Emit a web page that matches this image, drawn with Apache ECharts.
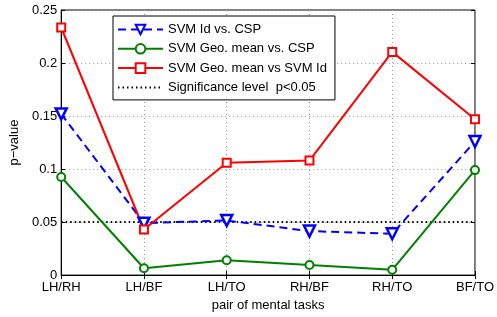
<!DOCTYPE html>
<html>
<head>
<meta charset="utf-8">
<script src="https://cdn.jsdelivr.net/npm/echarts@6/dist/echarts.min.js"></script>
<style>
  html, body { margin: 0; padding: 0; background: #fff; }
  #chart { width: 497px; height: 317px; }
</style>
</head>
<body>
<div id="chart"></div>
<script>
const categories = ["LH/RH", "LH/BF", "LH/TO", "RH/BF", "RH/TO", "BF/TO"];
const svmIdVsCsp = [0.152, 0.049, 0.0515, 0.0415, 0.039, 0.126];
const geoVsCsp = [0.0925, 0.0065, 0.014, 0.0095, 0.005, 0.099];
const geoVsSvmId = [0.2335, 0.043, 0.106, 0.108, 0.2105, 0.147];
const significance = [0.05, 0.05, 0.05, 0.05, 0.05, 0.05];

const font = "Liberation Sans, Arial, sans-serif";
const chart = echarts.init(document.getElementById("chart"));

const tickStyle = { show: true, inside: true, length: 4, lineStyle: { color: "#000" } };
const gridLine = { show: true, lineStyle: { color: "#999", type: [1, 3] } };

chart.setOption({
  animation: false,
  textStyle: { fontFamily: font },
  grid: {
    left: 59, right: 20, top: 10, bottom: 34,
    show: true, borderColor: "#000", borderWidth: 1
  },
  legend: {
    orient: "vertical",
    left: 113, top: 16,
    itemWidth: 45, itemHeight: 12, itemGap: 6.3,
    padding: [7, 8, 6, 4],
    borderColor: "#000", borderWidth: 1, backgroundColor: "#fff",
    textStyle: { fontSize: 13, color: "#000", fontFamily: font },
    data: [
      "SVM Id vs. CSP",
      "SVM Geo. mean vs. CSP",
      "SVM Geo. mean vs SVM Id",
      { name: "Significance level  p<0.05", itemStyle: { color: "transparent", borderWidth: 0 } }
    ]
  },
  xAxis: [
    {
      type: "category", data: categories, boundaryGap: false,
      name: "pair of mental tasks", nameLocation: "middle", nameGap: 22,
      nameTextStyle: { fontSize: 13, color: "#000" },
      axisLine: { show: true, lineStyle: { color: "#000" } },
      axisTick: Object.assign({ alignWithLabel: true }, tickStyle),
      axisLabel: { fontSize: 13, color: "#000", margin: 6 },
      splitLine: gridLine
    },
    {
      type: "category", data: categories, boundaryGap: false, position: "top",
      axisLine: { show: false }, axisTick: tickStyle, axisLabel: { show: false }
    }
  ],
  yAxis: [
    {
      type: "value", min: 0, max: 0.25, interval: 0.05,
      name: "p\u2212value", nameLocation: "middle", nameGap: 36,
      nameTextStyle: { fontSize: 13, color: "#000" },
      axisLine: { show: true, lineStyle: { color: "#000" } },
      axisTick: tickStyle,
      axisLabel: { fontSize: 13, color: "#000", margin: 4 },
      splitLine: gridLine
    },
    {
      type: "value", min: 0, max: 0.25, interval: 0.05, position: "right",
      axisLine: { show: false }, axisTick: tickStyle, axisLabel: { show: false },
      splitLine: { show: false }
    }
  ],
  series: [
    {
      name: "Significance level  p<0.05", type: "line", data: significance,
      symbol: "none", z: 1,
      lineStyle: { color: "#000", width: 2, type: [1.5, 3] },
      itemStyle: { color: "#000" }
    },
    {
      name: "SVM Id vs. CSP", type: "line", data: svmIdVsCsp,
      symbol: "triangle", symbolRotate: 180, symbolSize: 11,
      lineStyle: { color: "#0000ff", width: 2, type: [8, 5] },
      itemStyle: { color: "#fff", borderColor: "#0000ff", borderWidth: 2.5 }
    },
    {
      name: "SVM Geo. mean vs. CSP", type: "line", data: geoVsCsp,
      symbol: "circle", symbolSize: 8,
      lineStyle: { color: "#008000", width: 2 },
      itemStyle: { color: "#fff", borderColor: "#008000", borderWidth: 2 }
    },
    {
      name: "SVM Geo. mean vs SVM Id", type: "line", data: geoVsSvmId,
      symbol: "rect", symbolSize: 8,
      lineStyle: { color: "#ff0000", width: 2 },
      itemStyle: { color: "#fff", borderColor: "#ff0000", borderWidth: 2 }
    }
  ]
});
</script>
</body>
</html>
